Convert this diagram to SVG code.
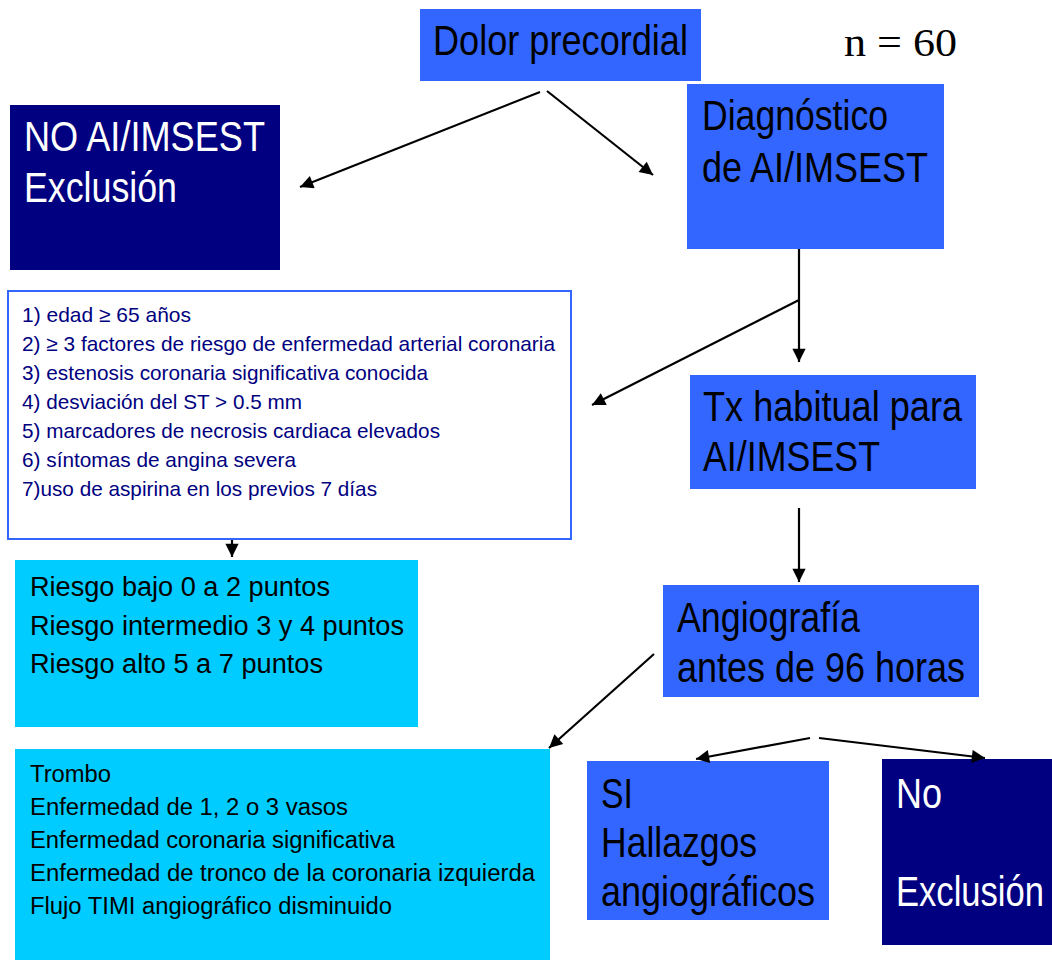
<svg xmlns="http://www.w3.org/2000/svg" width="1052" height="960" viewBox="0 0 1052 960">
<style>
text{font-family:"Liberation Sans",Arial,sans-serif}
.big{font-size:43px;fill:#000}
.bigw{font-size:43px;fill:#fff}
.crit{font-size:21px;fill:#000080}
.risk{font-size:27px;fill:#000}
.hall{font-size:23px;fill:#000}
.blue{fill:#3366FF}
.navy{fill:#000080}
.cyan{fill:#00CCFF}
.conn line{stroke:#000;stroke-width:2.2;fill:none;marker-end:url(#ah)}
</style>
<defs>
<marker id="ah" viewBox="0 0 10 10" refX="10" refY="5" markerWidth="7" markerHeight="6" markerUnits="strokeWidth" orient="auto">
<path d="M0,0 L10,5 L0,10 z" fill="#000"/>
</marker>
</defs>
<rect width="1052" height="960" fill="#fff"/>
<g id="dolor">
<rect class="blue" x="420" y="9" width="281" height="72"/>
<text class="big" x="433" y="55" textLength="255" lengthAdjust="spacingAndGlyphs">Dolor precordial</text>
</g>
<g id="n60">
<text x="844" y="56" font-size="40" textLength="113" lengthAdjust="spacingAndGlyphs" style="font-family:'Liberation Serif','Times New Roman',serif">n = 60</text>
</g>
<g id="noai">
<rect class="navy" x="10" y="105" width="270" height="165"/>
<text class="bigw" x="24" y="151" textLength="241" lengthAdjust="spacingAndGlyphs">NO AI/IMSEST</text>
<text class="bigw" x="24" y="202" textLength="153" lengthAdjust="spacingAndGlyphs">Exclusión</text>
</g>
<g id="diag">
<rect class="blue" x="687" y="84" width="257" height="165"/>
<text class="big" x="702" y="130" textLength="186" lengthAdjust="spacingAndGlyphs">Diagnóstico</text>
<text class="big" x="702" y="182" textLength="226" lengthAdjust="spacingAndGlyphs">de AI/IMSEST</text>
</g>
<g id="criterios">
<rect x="8" y="291" width="563" height="248" fill="#fff" stroke="#3366FF" stroke-width="2"/>
<text class="crit" x="22" y="322" textLength="169" lengthAdjust="spacingAndGlyphs">1) edad ≥ 65 años</text>
<text class="crit" x="22" y="351" textLength="533" lengthAdjust="spacingAndGlyphs">2) ≥ 3 factores de riesgo de enfermedad arterial coronaria</text>
<text class="crit" x="22" y="380" textLength="406" lengthAdjust="spacingAndGlyphs">3) estenosis coronaria significativa conocida</text>
<text class="crit" x="22" y="409" textLength="280" lengthAdjust="spacingAndGlyphs">4) desviación del ST &gt; 0.5 mm</text>
<text class="crit" x="22" y="438" textLength="418" lengthAdjust="spacingAndGlyphs">5) marcadores de necrosis cardiaca elevados</text>
<text class="crit" x="22" y="467" textLength="274" lengthAdjust="spacingAndGlyphs">6) síntomas de angina severa</text>
<text class="crit" x="22" y="496" textLength="355" lengthAdjust="spacingAndGlyphs">7)uso de aspirina en los previos 7 días</text>
</g>
<g id="riesgo">
<rect class="cyan" x="15" y="560" width="403" height="167"/>
<text class="risk" x="30" y="596" textLength="300" lengthAdjust="spacingAndGlyphs">Riesgo bajo 0 a 2 puntos</text>
<text class="risk" x="30" y="635" textLength="374" lengthAdjust="spacingAndGlyphs">Riesgo intermedio 3 y 4 puntos</text>
<text class="risk" x="30" y="673" textLength="293" lengthAdjust="spacingAndGlyphs">Riesgo alto 5 a 7 puntos</text>
</g>
<g id="tx">
<rect class="blue" x="690" y="375" width="286" height="114"/>
<text class="big" x="703" y="421" textLength="259" lengthAdjust="spacingAndGlyphs">Tx habitual para</text>
<text class="big" x="703" y="471" textLength="177" lengthAdjust="spacingAndGlyphs">AI/IMSEST</text>
</g>
<g id="angio">
<rect class="blue" x="663" y="585" width="316" height="112"/>
<text class="big" x="677" y="632" textLength="183" lengthAdjust="spacingAndGlyphs">Angiografía</text>
<text class="big" x="677" y="682" textLength="288" lengthAdjust="spacingAndGlyphs">antes de 96 horas</text>
</g>
<g id="hallazgos">
<rect class="cyan" x="15" y="749" width="535" height="211"/>
<text class="hall" x="30" y="782" textLength="81" lengthAdjust="spacingAndGlyphs">Trombo</text>
<text class="hall" x="30" y="815" textLength="318" lengthAdjust="spacingAndGlyphs">Enfermedad de 1, 2 o 3 vasos</text>
<text class="hall" x="30" y="848" textLength="365" lengthAdjust="spacingAndGlyphs">Enfermedad coronaria significativa</text>
<text class="hall" x="30" y="881" textLength="505" lengthAdjust="spacingAndGlyphs">Enfermedad de tronco de la coronaria izquierda</text>
<text class="hall" x="30" y="914" textLength="362" lengthAdjust="spacingAndGlyphs">Flujo TIMI angiográfico disminuido</text>
</g>
<g id="si">
<rect class="blue" x="587" y="761" width="242" height="159"/>
<text class="big" x="601" y="808" textLength="32" lengthAdjust="spacingAndGlyphs">SI</text>
<text class="big" x="601" y="857" textLength="156" lengthAdjust="spacingAndGlyphs">Hallazgos</text>
<text class="big" x="601" y="906" textLength="214" lengthAdjust="spacingAndGlyphs">angiográficos</text>
</g>
<g id="no">
<rect class="navy" x="882" y="759" width="170" height="186"/>
<text class="bigw" x="896" y="808" textLength="46" lengthAdjust="spacingAndGlyphs">No</text>
<text class="bigw" x="896" y="906" textLength="148" lengthAdjust="spacingAndGlyphs">Exclusión</text>
</g>
<g id="connectors" class="conn">
<line x1="540" y1="92" x2="300" y2="187"/>
<line x1="547" y1="91" x2="653" y2="175"/>
<line x1="799" y1="249" x2="799" y2="362"/>
<line x1="799" y1="300" x2="592" y2="405"/>
<line x1="232" y1="540" x2="232" y2="557"/>
<line x1="799" y1="508" x2="799" y2="582"/>
<line x1="654" y1="654" x2="549" y2="748"/>
<line x1="810" y1="738" x2="696" y2="759"/>
<line x1="819" y1="738" x2="985" y2="758"/>
</g>
</svg>
